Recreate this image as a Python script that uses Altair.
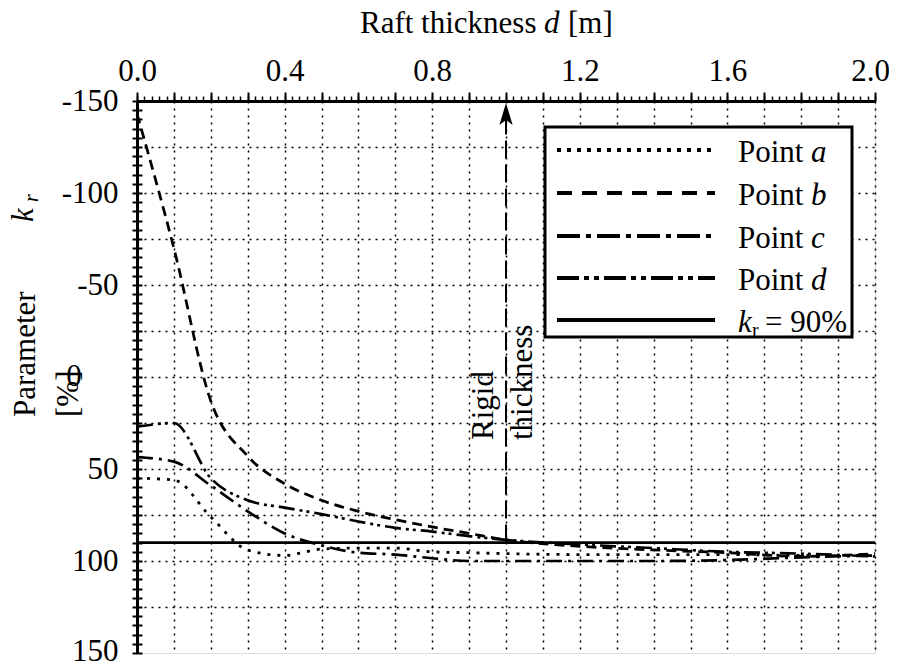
import altair as alt
import pandas as pd
import numpy as np

# ---------------- data ----------------
thickness = [0.0, 0.1, 0.2, 0.3, 0.4, 0.5, 0.6, 0.7, 0.8, 0.9, 1.0, 1.2, 1.4, 1.6, 1.8, 2.0]
point_a = [55, 56, 76, 94, 97, 93.5, 93, 93, 95, 95.5, 96, 96.5, 96.5, 96.5, 97, 97]
point_b = [-143, -70, 13, 43, 58, 67, 73, 77.5, 81.5, 85, 88.5, 92, 94, 95.5, 97.5, 96]
point_c = [43.5, 46, 59, 73, 85, 91.5, 95.5, 96.5, 98.5, 100, 100, 100, 100, 99.5, 98, 97]
point_d = [27, 25, 55, 67, 71, 74.5, 78.5, 82, 84, 86.5, 88.5, 91, 93, 95, 96, 97.5]
kr_limit = 90
kr_x = [0.0, 2.0]
rigid_d = 1.0
rigid_span = [90, -140]
arrow_value = -143

series_names = ["Point a", "Point b", "Point c", "Point d", "kr = 90%"]
x_label_values = [0.0, 0.4, 0.8, 1.2, 1.6, 2.0]
y_label_values = [-150, -100, -50, 50, 100, 150]
zero_label = "0"
x_major = [round(i * 0.1, 2) for i in range(21)]
x_minor = [round(i * 0.02, 2) for i in range(101)]
y_grid = list(range(-125, 126, 25))
y_minor = list(range(-150, 151, 5))

rows = []
for name, vals in zip(series_names[:4], [point_a, point_b, point_c, point_d]):
    for d, v in zip(thickness, vals):
        rows.append({"d": d, "value": v, "series": name})
for d in kr_x:
    rows.append({"d": d, "value": kr_limit, "series": series_names[4]})
df = pd.DataFrame(rows)

# ---------------- styles / layout ----------------
SERIF = "Liberation Serif"
FS = 31
W, H = 738, 552
plot_dashes = [[3, 7], [10, 6], [16, 6, 3, 6], [16, 5, 3, 4, 3, 5], [1, 0]]
legend_dashes = [[4, 6], [15, 10], [23, 6, 5, 6], [22, 5, 5, 5, 5, 5], None]
legend_rows_y = [49, 92, 135, 177, 219]
legend_line_x = (420, 578)
legend_box = (408, 715, 26, 236)

xscale = alt.Scale(domain=[0, 2], nice=False, zero=False)
yscale = alt.Scale(domain=[-150, 150], reverse=True, nice=False, zero=False)
one = alt.Data(values=[{"k": 1}])

lines = alt.Chart(df).mark_line(interpolate="monotone", color="black").encode(
    x=alt.X("d:Q", scale=xscale, axis=alt.Axis(
        orient="top", values=x_label_values, format=".1f", ticks=False, grid=False,
        labelPadding=14, labelFont=SERIF, labelFontSize=FS, labelColor="black",
        labelOffset={"condition": {"test": "datum.value == 2", "value": -5}, "value": 0},
        domainColor="black", domainWidth=3, title=None, labelFlush=False)),
    y=alt.Y("value:Q", scale=yscale, axis=alt.Axis(
        orient="left", values=y_label_values, ticks=False, grid=False,
        labelExpr="toString(datum.value)",
        labelOffset={"condition": {"test": "datum.value == 150", "value": -2}, "value": 0},
        labelPadding=19, labelFont=SERIF, labelFontSize=FS, labelColor="black",
        domainColor="black", domainWidth=3, title=None, labelFlush=False,
        labelOverlap=False)),
    strokeDash=alt.StrokeDash("series:N", scale=alt.Scale(domain=series_names, range=plot_dashes), legend=None),
    strokeWidth=alt.StrokeWidth("series:N", scale=alt.Scale(domain=series_names, range=[2.8, 2.6, 2.6, 2.6, 2.6]), legend=None),
)

major = alt.Chart(df).mark_point(opacity=0).encode(
    x=alt.X("d:Q", scale=xscale, axis=alt.Axis(
        orient="top", values=x_major, labels=False, ticks=True, tickSize=9, tickWidth=2,
        tickColor="black", grid=True, gridColor="black", gridDash=[2, 5], gridWidth=1.5,
        domain=False, title=None)),
    y=alt.Y("value:Q", scale=yscale, axis=alt.Axis(
        orient="left", values=y_grid, labels=False, ticks=False, grid=True,
        gridColor="black", gridDash=[2, 5], gridWidth=1.5, domain=False, title=None)),
)

minor = alt.Chart(df).mark_point(opacity=0).encode(
    x=alt.X("d:Q", scale=xscale, axis=alt.Axis(
        orient="top", values=x_minor, labels=False, ticks=True, tickSize=5, tickWidth=1.5,
        tickColor="black", grid=False, domain=False, title=None)),
    y=alt.Y("value:Q", scale=yscale, axis=alt.Axis(
        orient="left", values=y_minor, labels=False, ticks=True, tickSize=10, tickWidth=2,
        tickColor="black", offset=-5, grid=False, domain=False, title=None)),
)

rigid_df = pd.DataFrame({"d": [rigid_d, rigid_d], "value": rigid_span})
rigid = alt.Chart(rigid_df).mark_line(strokeDash=[18, 6], strokeWidth=2, color="black").encode(
    x=alt.X("d:Q", scale=xscale, axis=None),
    y=alt.Y("value:Q", scale=yscale, axis=None),
)
arrow = alt.Chart(pd.DataFrame({"d": [rigid_d], "value": [arrow_value]})).mark_point(
    shape="M0,-1L0.6,1L0,0.55L-0.6,1Z", size=484, filled=True, color="black", opacity=1
).encode(
    x=alt.X("d:Q", scale=xscale, axis=None),
    y=alt.Y("value:Q", scale=yscale, axis=None),
)

def txt(s, x, y, size=FS, style="normal", angle=0, align="left", baseline="alphabetic"):
    return alt.Chart(one).mark_text(
        text=s, font=SERIF, fontSize=size, fontStyle=style, angle=angle,
        align=align, baseline=baseline, color="black"
    ).encode(x=alt.value(x), y=alt.value(y))

texts = [
    txt("Raft thickness", 223, -68),
    txt("d", 407, -68, style="italic"),
    txt("[m]", 431, -68),
    txt("Parameter", -102, 316, angle=270),
    txt("k", -104, 121, style="italic", angle=270),
    txt("r", -99, 101, size=20, style="italic", angle=270),
    txt("[%]", -59, 316, angle=270),
    txt(zero_label, -63, 276, align="center", baseline="middle"),
    txt("Rigid", 356, 339, angle=270),
    txt("thickness", 395, 339, angle=270),
]

bx0, bx1, by0, by1 = legend_box
box = alt.Chart(one).mark_rect(fill="white", stroke="black", strokeWidth=3).encode(
    x=alt.value(bx0), x2=alt.value(bx1), y=alt.value(by0), y2=alt.value(by1))

legend_layers = [box]
for i, name in enumerate(series_names):
    kw = dict(strokeWidth=4, color="black")
    if legend_dashes[i] is not None:
        kw["strokeDash"] = legend_dashes[i]
    legend_layers.append(alt.Chart(one).mark_rule(**kw).encode(
        x=alt.value(legend_line_x[0]), x2=alt.value(legend_line_x[1]), y=alt.value(legend_rows_y[i])))
for i, letter in enumerate(["a", "b", "c", "d"]):
    yb = legend_rows_y[i] + 12
    legend_layers.append(txt("Point", 601, yb))
    legend_layers.append(txt(letter, 674, yb, style="italic"))
yb = legend_rows_y[4] + 12
legend_layers.append(txt("k", 601, yb, style="italic"))
legend_layers.append(txt("r", 615, yb + 5, size=20))
legend_layers.append(txt("= 90%", 628, yb))

chart = alt.layer(major, minor, lines, rigid, arrow, *legend_layers, *texts).resolve_axis(
    x="independent", y="independent"
).properties(
    width=W, height=H, autosize="none",
    padding={"left": 129, "top": 93, "right": 14, "bottom": 10},
).configure_view(stroke="black", strokeWidth=3).configure(background="white")

chart.save("out.html", embed_options={"renderer": "svg", "actions": False})
